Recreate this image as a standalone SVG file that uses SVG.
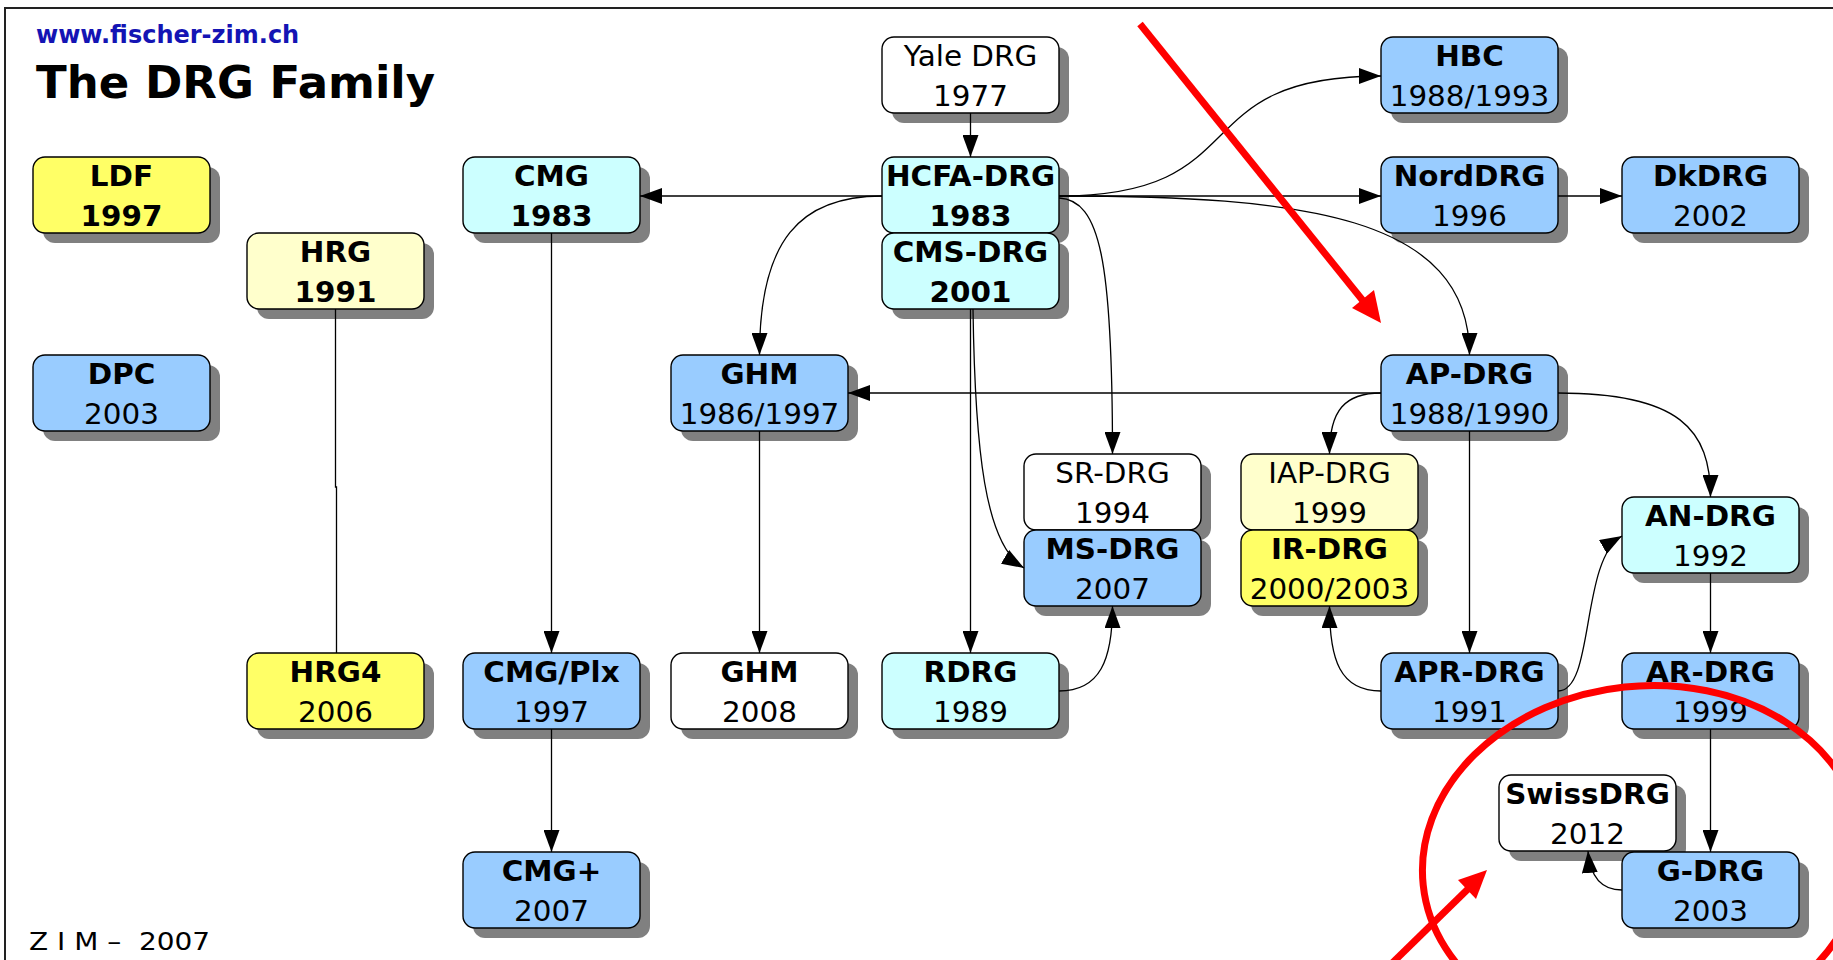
<svg xmlns="http://www.w3.org/2000/svg" width="1833" height="960" viewBox="0 0 1833 960">
  <style>
    .shadow { fill: #808080; }
    .box { stroke: #000; stroke-width: 1.4; }
    .blue { fill: #99ccff; }
    .cyan { fill: #ccffff; }
    .yellow { fill: #ffff66; }
    .pale { fill: #ffffcc; }
    .white { fill: #ffffff; }
    text { font-family: "DejaVu Sans", Verdana, sans-serif; fill: #000; }
    .lbl { font-size: 27.5px; text-anchor: middle; transform-box: fill-box; transform-origin: center; transform: scaleX(1.07); }
    .b { font-weight: bold; }
    .edge { fill: none; stroke: #000; stroke-width: 1.3; }
    .red { fill: none; stroke: #ff0000; stroke-width: 7; }
  </style>
  <defs>
    <marker id="ah" markerUnits="userSpaceOnUse" markerWidth="23" markerHeight="16" refX="22" refY="8" orient="auto">
      <path d="M0,0 L22,8 L0,16 z" fill="#000"/>
    </marker>
  </defs>

  <!-- page frame -->
  <rect x="5" y="8" width="1900" height="1000" fill="#fff" stroke="#222" stroke-width="2"/>

  <!-- header and footer -->
  <text x="36" y="43" font-size="24" font-weight="bold" style="fill:#1414b4">www.fischer-zim.ch</text>
  <text x="36" y="98" font-size="45" font-weight="bold">The DRG Family</text>
  <text x="29" y="950" font-size="25" xml:space="preserve" textLength="181" lengthAdjust="spacingAndGlyphs">Z I M –  2007</text>

  <!-- nodes: shadow, box, name, year -->
  <g id="ldf"><rect class="shadow" x="43" y="167" width="177" height="76" rx="12"/><rect class="box yellow" x="33" y="157" width="177" height="76" rx="12"/><text class="lbl b" x="121.5" y="186">LDF</text><text class="lbl b" x="121.5" y="226">1997</text></g>
  <g id="dpc"><rect class="shadow" x="43" y="365" width="177" height="76" rx="12"/><rect class="box blue" x="33" y="355" width="177" height="76" rx="12"/><text class="lbl b" x="121.5" y="384">DPC</text><text class="lbl" x="121.5" y="424">2003</text></g>
  <g id="hrg"><rect class="shadow" x="257" y="243" width="177" height="76" rx="12"/><rect class="box pale" x="247" y="233" width="177" height="76" rx="12"/><text class="lbl b" x="335.5" y="262">HRG</text><text class="lbl b" x="335.5" y="302">1991</text></g>
  <g id="hrg4"><rect class="shadow" x="257" y="663" width="177" height="76" rx="12"/><rect class="box yellow" x="247" y="653" width="177" height="76" rx="12"/><text class="lbl b" x="335.5" y="682">HRG4</text><text class="lbl" x="335.5" y="722">2006</text></g>
  <g id="cmg"><rect class="shadow" x="473" y="167" width="177" height="76" rx="12"/><rect class="box cyan" x="463" y="157" width="177" height="76" rx="12"/><text class="lbl b" x="551.5" y="186">CMG</text><text class="lbl b" x="551.5" y="226">1983</text></g>
  <g id="cmg-plx"><rect class="shadow" x="473" y="663" width="177" height="76" rx="12"/><rect class="box blue" x="463" y="653" width="177" height="76" rx="12"/><text class="lbl b" x="551.5" y="682">CMG/Plx</text><text class="lbl" x="551.5" y="722">1997</text></g>
  <g id="cmg-plus"><rect class="shadow" x="473" y="862" width="177" height="76" rx="12"/><rect class="box blue" x="463" y="852" width="177" height="76" rx="12"/><text class="lbl b" x="551.5" y="881">CMG+</text><text class="lbl" x="551.5" y="921">2007</text></g>
  <g id="ghm"><rect class="shadow" x="681" y="365" width="177" height="76" rx="12"/><rect class="box blue" x="671" y="355" width="177" height="76" rx="12"/><text class="lbl b" x="759.5" y="384">GHM</text><text class="lbl" x="759.5" y="424">1986/1997</text></g>
  <g id="ghm-2008"><rect class="shadow" x="681" y="663" width="177" height="76" rx="12"/><rect class="box white" x="671" y="653" width="177" height="76" rx="12"/><text class="lbl b" x="759.5" y="682">GHM</text><text class="lbl" x="759.5" y="722">2008</text></g>
  <g id="yale"><rect class="shadow" x="892" y="47" width="177" height="76" rx="12"/><rect class="box white" x="882" y="37" width="177" height="76" rx="12"/><text class="lbl" x="970.5" y="66">Yale DRG</text><text class="lbl" x="970.5" y="106">1977</text></g>
  <g id="hcfa"><rect class="shadow" x="892" y="167" width="177" height="76" rx="12"/><rect class="box cyan" x="882" y="157" width="177" height="76" rx="12"/><text class="lbl b" x="970.5" y="186">HCFA-DRG</text><text class="lbl b" x="970.5" y="226">1983</text></g>
  <g id="cms"><rect class="shadow" x="892" y="243" width="177" height="76" rx="12"/><rect class="box cyan" x="882" y="233" width="177" height="76" rx="12"/><text class="lbl b" x="970.5" y="262">CMS-DRG</text><text class="lbl b" x="970.5" y="302">2001</text></g>
  <g id="rdrg"><rect class="shadow" x="892" y="663" width="177" height="76" rx="12"/><rect class="box cyan" x="882" y="653" width="177" height="76" rx="12"/><text class="lbl b" x="970.5" y="682">RDRG</text><text class="lbl" x="970.5" y="722">1989</text></g>
  <g id="sr"><rect class="shadow" x="1034" y="464" width="177" height="76" rx="12"/><rect class="box white" x="1024" y="454" width="177" height="76" rx="12"/><text class="lbl" x="1112.5" y="483">SR-DRG</text><text class="lbl" x="1112.5" y="523">1994</text></g>
  <g id="ms"><rect class="shadow" x="1034" y="540" width="177" height="76" rx="12"/><rect class="box blue" x="1024" y="530" width="177" height="76" rx="12"/><text class="lbl b" x="1112.5" y="559">MS-DRG</text><text class="lbl" x="1112.5" y="599">2007</text></g>
  <g id="iap"><rect class="shadow" x="1251" y="464" width="177" height="76" rx="12"/><rect class="box pale" x="1241" y="454" width="177" height="76" rx="12"/><text class="lbl" x="1329.5" y="483">IAP-DRG</text><text class="lbl" x="1329.5" y="523">1999</text></g>
  <g id="ir"><rect class="shadow" x="1251" y="540" width="177" height="76" rx="12"/><rect class="box yellow" x="1241" y="530" width="177" height="76" rx="12"/><text class="lbl b" x="1329.5" y="559">IR-DRG</text><text class="lbl" x="1329.5" y="599">2000/2003</text></g>
  <g id="hbc"><rect class="shadow" x="1391" y="47" width="177" height="76" rx="12"/><rect class="box blue" x="1381" y="37" width="177" height="76" rx="12"/><text class="lbl b" x="1469.5" y="66">HBC</text><text class="lbl" x="1469.5" y="106">1988/1993</text></g>
  <g id="norddrg"><rect class="shadow" x="1391" y="167" width="177" height="76" rx="12"/><rect class="box blue" x="1381" y="157" width="177" height="76" rx="12"/><text class="lbl b" x="1469.5" y="186">NordDRG</text><text class="lbl" x="1469.5" y="226">1996</text></g>
  <g id="dkdrg"><rect class="shadow" x="1632" y="167" width="177" height="76" rx="12"/><rect class="box blue" x="1622" y="157" width="177" height="76" rx="12"/><text class="lbl b" x="1710.5" y="186">DkDRG</text><text class="lbl" x="1710.5" y="226">2002</text></g>
  <g id="ap"><rect class="shadow" x="1391" y="365" width="177" height="76" rx="12"/><rect class="box blue" x="1381" y="355" width="177" height="76" rx="12"/><text class="lbl b" x="1469.5" y="384">AP-DRG</text><text class="lbl" x="1469.5" y="424">1988/1990</text></g>
  <g id="an"><rect class="shadow" x="1632" y="507" width="177" height="76" rx="12"/><rect class="box cyan" x="1622" y="497" width="177" height="76" rx="12"/><text class="lbl b" x="1710.5" y="526">AN-DRG</text><text class="lbl" x="1710.5" y="566">1992</text></g>
  <g id="apr"><rect class="shadow" x="1391" y="663" width="177" height="76" rx="12"/><rect class="box blue" x="1381" y="653" width="177" height="76" rx="12"/><text class="lbl b" x="1469.5" y="682">APR-DRG</text><text class="lbl" x="1469.5" y="722">1991</text></g>
  <g id="ar"><rect class="shadow" x="1632" y="663" width="177" height="76" rx="12"/><rect class="box blue" x="1622" y="653" width="177" height="76" rx="12"/><text class="lbl b" x="1710.5" y="682">AR-DRG</text><text class="lbl" x="1710.5" y="722">1999</text></g>
  <g id="swissdrg"><rect class="shadow" x="1509" y="785" width="177" height="76" rx="12"/><rect class="box white" x="1499" y="775" width="177" height="76" rx="12"/><text class="lbl b" x="1587.5" y="804">SwissDRG</text><text class="lbl" x="1587.5" y="844">2012</text></g>
  <g id="gdrg"><rect class="shadow" x="1632" y="862" width="177" height="76" rx="12"/><rect class="box blue" x="1622" y="852" width="177" height="76" rx="12"/><text class="lbl b" x="1710.5" y="881">G-DRG</text><text class="lbl" x="1710.5" y="921">2003</text></g>

  <!-- connectors -->
  <g id="connectors">
    <path class="edge" marker-end="url(#ah)" d="M970.5,113 L970.5,157"/>
    <path class="edge" marker-end="url(#ah)" d="M882,196 L640,196"/>
    <path class="edge" marker-end="url(#ah)" d="M882,196 C800,196 759.5,240 759.5,355"/>
    <path class="edge" marker-end="url(#ah)" d="M1059,196 C1260,196 1180,76 1381,76"/>
    <path class="edge" marker-end="url(#ah)" d="M1059,196 L1381,196"/>
    <path class="edge" marker-end="url(#ah)" d="M1558,196 L1622,196"/>
    <path class="edge" marker-end="url(#ah)" d="M1059,196 C1300,196 1469.5,215 1469.5,355"/>
    <path class="edge" marker-end="url(#ah)" d="M1059,198 C1100,200 1112.5,260 1112.5,454"/>
    <path class="edge" marker-end="url(#ah)" d="M970.5,309 L970.5,653"/>
    <path class="edge" marker-end="url(#ah)" d="M973,309 C975,450 985,545 1024,568"/>
    <path class="edge" marker-end="url(#ah)" d="M1381,393 L848,393"/>
    <path class="edge" marker-end="url(#ah)" d="M1381,393 C1345,393 1329.5,410 1329.5,454"/>
    <path class="edge" marker-end="url(#ah)" d="M1469.5,431 L1469.5,653"/>
    <path class="edge" marker-end="url(#ah)" d="M1558,393 C1680,393 1710.5,430 1710.5,497"/>
    <path class="edge" marker-end="url(#ah)" d="M1381,691 C1340,691 1329.5,660 1329.5,606"/>
    <path class="edge" marker-end="url(#ah)" d="M1558,691 C1595,691 1580,560 1622,536"/>
    <path class="edge" marker-end="url(#ah)" d="M1710.5,573 L1710.5,653"/>
    <path class="edge" marker-end="url(#ah)" d="M1710.5,729 L1710.5,852"/>
    <path class="edge" marker-end="url(#ah)" d="M1622,890 C1600,890 1590,875 1588,851"/>
    <path class="edge" marker-end="url(#ah)" d="M551.5,233 L551.5,653"/>
    <path class="edge" marker-end="url(#ah)" d="M551.5,729 L551.5,852"/>
    <path class="edge" marker-end="url(#ah)" d="M759.5,431 L759.5,653"/>
    <path class="edge" d="M335.5,309 L335.5,487 L336.5,487 L336.5,653"/>
    <path class="edge" marker-end="url(#ah)" d="M1059,691 C1100,691 1112.5,660 1112.5,606"/>
  </g>

  <!-- red highlighting -->
  <g id="highlight">
    <line class="red" x1="1140" y1="24" x2="1364" y2="302"/>
    <polygon fill="#ff0000" points="1381,323 1352,308 1374,290"/>
    <line class="red" x1="1380" y1="975" x2="1469" y2="888"/>
    <polygon fill="#ff0000" points="1487,870 1476,899 1458,880"/>
    <ellipse class="red" cx="1643" cy="862" rx="221" ry="176" transform="rotate(-6 1643 862)"/>
  </g>
</svg>
